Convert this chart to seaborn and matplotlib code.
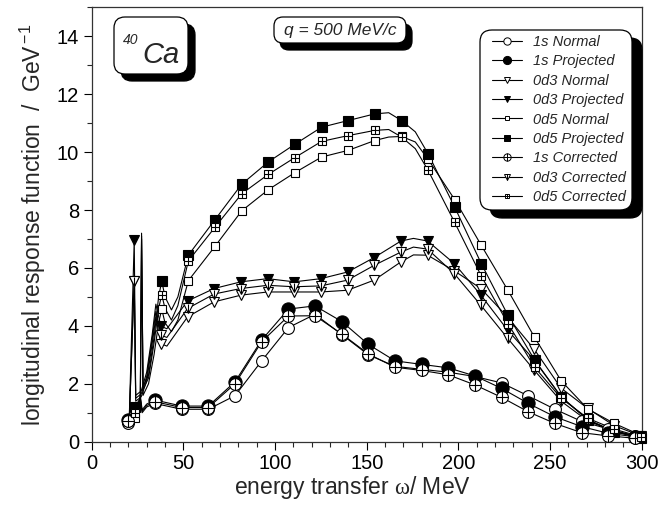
import matplotlib
matplotlib.use('Agg')
import matplotlib.pyplot as plt
from matplotlib.lines import Line2D
from matplotlib.patches import FancyBboxPatch
from matplotlib.transforms import IdentityTransform
from matplotlib.ticker import MultipleLocator
import numpy as np
import pandas as pd
import seaborn as sns

sns.set_style('ticks')
plt.rcParams['font.family'] = ['Liberation Sans', 'DejaVu Sans']
plt.rcParams['mathtext.fontset'] = 'custom'
plt.rcParams['mathtext.rm'] = 'Liberation Sans'
plt.rcParams['mathtext.it'] = 'Liberation Sans:italic'
plt.rcParams['mathtext.bf'] = 'Liberation Serif'

# ---- data (omega in MeV, response in GeV^-1) ----
# marker positions
x_1s = [20, 34.5, 49.1, 63.6, 78.2, 92.7, 107.3, 121.8, 136.4, 150.9, 165.5, 180,
        194.5, 209.1, 223.6, 238.2, 252.7, 267.3, 281.8, 296.4]
y_1s_norm = [0.65, 1.32, 1.12, 1.12, 1.59, 2.79, 3.94, 4.40, 3.70, 3.00, 2.60, 2.50,
             2.40, 2.25, 2.03, 1.58, 1.12, 0.70, 0.44, 0.20]
y_1s_proj = [0.75, 1.44, 1.23, 1.23, 2.07, 3.51, 4.58, 4.69, 4.15, 3.36, 2.79, 2.67,
             2.55, 2.27, 1.84, 1.32, 0.86, 0.52, 0.29, 0.17]
y_1s_corr = [0.70, 1.38, 1.18, 1.18, 2.00, 3.45, 4.34, 4.35, 3.72, 3.03, 2.57, 2.46,
             2.31, 1.96, 1.53, 1.03, 0.63, 0.31, 0.20, 0.12]

x_0d3 = [23.2, 37.7, 52.3, 66.8, 81.4, 95.9, 110.5, 125.0, 139.6, 154.1, 168.7, 183.2,
         197.8, 212.3, 226.9, 241.4, 256.0, 270.5, 285.1, 299.6]
y_0d3_norm = [5.55, 3.39, 4.31, 4.83, 5.06, 5.17, 5.17, 5.17, 5.23, 5.58, 6.21, 6.44,
              5.90, 5.29, 4.30, 3.19, 1.85, 1.15, 0.55, 0.20]
y_0d3_proj = [6.97, 3.99, 4.86, 5.29, 5.52, 5.63, 5.52, 5.63, 5.86, 6.36, 6.93, 6.93,
              6.15, 5.06, 3.85, 2.82, 1.55, 0.77, 0.35, 0.15]
y_0d3_corr = [5.55, 3.68, 4.60, 5.10, 5.29, 5.40, 5.35, 5.38, 5.58, 6.09, 6.55, 6.65,
              5.80, 4.71, 3.57, 2.47, 1.40, 0.72, 0.36, 0.15]

x_0d5 = [23.7, 38.2, 52.7, 67.3, 81.8, 96.3, 110.8, 125.4, 139.9, 154.4, 169.0, 183.5,
         198.0, 212.5, 227.0, 241.6, 256.1, 270.6, 285.1, 299.6]
y_0d5_norm = [0.82, 4.58, 5.56, 6.75, 7.97, 8.70, 9.29, 9.83, 10.06, 10.40, 10.54, 9.75,
              8.36, 6.78, 5.23, 3.60, 2.10, 1.13, 0.63, 0.22]
y_0d5_proj = [1.21, 5.55, 6.44, 7.67, 8.89, 9.66, 10.27, 10.86, 11.09, 11.32, 11.09, 9.94,
              8.10, 6.15, 4.37, 2.82, 1.55, 0.75, 0.34, 0.12]
y_0d5_corr = [1.00, 5.08, 6.24, 7.41, 8.56, 9.23, 9.81, 10.37, 10.57, 10.75, 10.52, 9.37,
              7.57, 5.72, 4.08, 2.57, 1.50, 0.81, 0.43, 0.17]

# extra line points (no marker): low-energy structure and peaks
ex_1s_x = [22, 23.5, 24.5, 26.5, 27.5, 30]
ex_1s_norm = [0.80, 1.15, 0.90, 1.45, 1.00, 1.20]
ex_1s_proj = [0.90, 1.30, 1.00, 1.60, 1.10, 1.30]
ex_1s_corr = [0.85, 1.22, 0.95, 1.52, 1.05, 1.25]

ex_0d3_x = [20.5, 24.0, 27.0, 30.0, 33.0, 35.0, 41.0, 175.5]
ex_0d3_norm = [0.75, 1.40, 1.55, 2.10, 3.40, 4.30, 3.30, 6.45]
ex_0d3_proj = [0.85, 1.60, 1.75, 2.40, 3.70, 4.75, 3.90, 7.02]
ex_0d3_corr = [0.80, 1.50, 1.65, 2.25, 3.55, 4.50, 3.60, 6.72]

ex_0d5_x = [20.5, 26.5, 27.2, 28.0, 31.0, 34.0, 36.5, 40.0, 43.5, 47.0, 162.0, 176.5]
ex_0d5_norm = [0.70, 1.20, 7.00, 1.60, 2.00, 3.00, 4.10, 4.10, 3.80, 4.20, 10.52, 10.35]
ex_0d5_proj = [0.85, 1.50, 7.20, 1.90, 2.30, 3.60, 5.00, 5.00, 4.55, 5.00, 11.36, 10.70]
ex_0d5_corr = [0.80, 1.40, 7.10, 1.80, 2.20, 3.40, 4.60, 4.60, 4.20, 4.70, 10.78, 10.12]

labels = ['1s Normal', '1s Projected', '0d3 Normal', '0d3 Projected', '0d5 Normal',
          '0d5 Projected', '1s Corrected', '0d3 Corrected', '0d5 Corrected']

series = {
    '1s Normal': (x_1s, y_1s_norm, ex_1s_x, ex_1s_norm),
    '1s Projected': (x_1s, y_1s_proj, ex_1s_x, ex_1s_proj),
    '0d3 Normal': (x_0d3, y_0d3_norm, ex_0d3_x, ex_0d3_norm),
    '0d3 Projected': (x_0d3, y_0d3_proj, ex_0d3_x, ex_0d3_proj),
    '0d5 Normal': (x_0d5, y_0d5_norm, ex_0d5_x, ex_0d5_norm),
    '0d5 Projected': (x_0d5, y_0d5_proj, ex_0d5_x, ex_0d5_proj),
    '1s Corrected': (x_1s, y_1s_corr, ex_1s_x, ex_1s_corr),
    '0d3 Corrected': (x_0d3, y_0d3_corr, ex_0d3_x, ex_0d3_corr),
    '0d5 Corrected': (x_0d5, y_0d5_corr, ex_0d5_x, ex_0d5_corr),
}

# marker styles: (marker, size, facecolor, overlay marker, overlay size)
styles = {
    '1s Normal': ('o', 8.5, 'white', None, 0),
    '1s Projected': ('o', 9.5, 'black', None, 0),
    '0d3 Normal': ('v', 7, 'white', None, 0),
    '0d3 Projected': ('v', 7.5, 'black', None, 0),
    '0d5 Normal': ('s', 5.8, 'white', None, 0),
    '0d5 Projected': ('s', 6.8, 'black', None, 0),
    '1s Corrected': ('o', 8.5, 'white', '+', 8.5),
    '0d3 Corrected': ('v', 7, 'white', '|', 6),
    '0d5 Corrected': ('s', 5.8, 'white', '+', 5.8),
}

W, H = 671, 505
fig = plt.figure(figsize=(W / 100, H / 100), dpi=100)
ax = fig.add_axes([91.7 / W, 1 - 441.7 / H, 550 / W, 434.4 / H])

for i, lab in enumerate(labels):
    mx, my, ex, ey = series[lab]
    df = pd.DataFrame({'w': list(mx) + list(ex), 'r': list(my) + list(ey)}).sort_values('w')
    sns.lineplot(data=df, x='w', y='r', ax=ax, color='black', lw=0.8, sort=False,
                 estimator=None, zorder=2 + i)
    m, ms, fc, ov, ovs = styles[lab]
    ax.plot(mx, my, ls='none', marker=m, ms=ms, mfc=fc, mec='black', mew=0.8,
            zorder=20 + i, clip_on=False)
    if ov:
        ax.plot(mx, my, ls='none', marker=ov, ms=ovs, mec='black', mew=0.8,
                zorder=20 + i, clip_on=False)

ax.set_xlim(0, 300)
ax.set_ylim(0, 15)
ax.xaxis.set_major_locator(MultipleLocator(50))
ax.xaxis.set_minor_locator(MultipleLocator(10))
ax.yaxis.set_major_locator(MultipleLocator(2))
ax.yaxis.set_minor_locator(MultipleLocator(1))
ax.set_yticks(range(0, 15, 2))
ax.tick_params(which='major', direction='out', length=5.5, width=0.8, labelsize=14.5,
               pad=3, colors='black')
ax.tick_params(which='minor', direction='out', length=3.5, width=0.8)
ax.tick_params(axis='y', which='major', length=6)
for sp in ax.spines.values():
    sp.set_visible(True)
    sp.set_linewidth(0.9)
    sp.set_color('#333333')

ax.set_xlabel(r'energy transfer $\mathbf{\omega}$/ MeV', fontsize=16.5, labelpad=3)
ax.xaxis.set_label_coords(0.475, -0.075)
ax.set_ylabel(r'longitudinal response function  /  GeV$^{\,\mathrm{-1}}$', fontsize=16.5,
              labelpad=6)

# rounded boxes with drop shadow, positioned in output pixels
def box(x0, y0, x1, y1, dx, dy, r):
    for off, fc, ec in [((dx, dy), 'black', 'black'), ((0, 0), 'white', 'black')]:
        p = FancyBboxPatch((x0 + off[0], H - y1 - off[1]), x1 - x0, y1 - y0,
                           boxstyle='round,pad=0,rounding_size=%g' % r,
                           transform=IdentityTransform(), fc=fc, ec=ec, lw=0.9,
                           zorder=40)
        fig.add_artist(p)

box(114, 17, 188, 74, 7, 7, 11)
fig.text(123 / W, 1 - 44 / H, '40', fontsize=10, style='italic', zorder=50)
fig.text(142 / W, 1 - 63 / H, 'Ca', fontsize=21, style='italic', zorder=50)

box(274, 17, 406, 43, 6, 7, 9)
fig.text(340 / W, 1 - 30.5 / H, 'q = 500 MeV/c', fontsize=12.5, style='italic',
         ha='center', va='center', zorder=50)

box(480, 30, 632, 210, 10, 8, 12)
handles = []
for lab in labels:
    m, ms, fc, ov, ovs = styles[lab]
    h = Line2D([], [], color='black', lw=0.8, marker=m, ms=ms * 0.62, mfc=fc,
               mec='black', mew=0.7)
    if ov:
        h = (h, Line2D([], [], ls='none', marker=ov, ms=ovs * 0.62, mec='black', mew=0.7))
    handles.append(h)
leg = fig.legend(handles, labels, loc='upper left',
                 bbox_to_anchor=(492 / W, 1 - 35 / H), frameon=False,
                 prop={'size': 10.5, 'style': 'italic'}, handlelength=2.05,
                 handletextpad=0.75, labelspacing=0.37, borderpad=0, borderaxespad=0)
leg.set_zorder(60)

fig.savefig('out.png', dpi=100)
